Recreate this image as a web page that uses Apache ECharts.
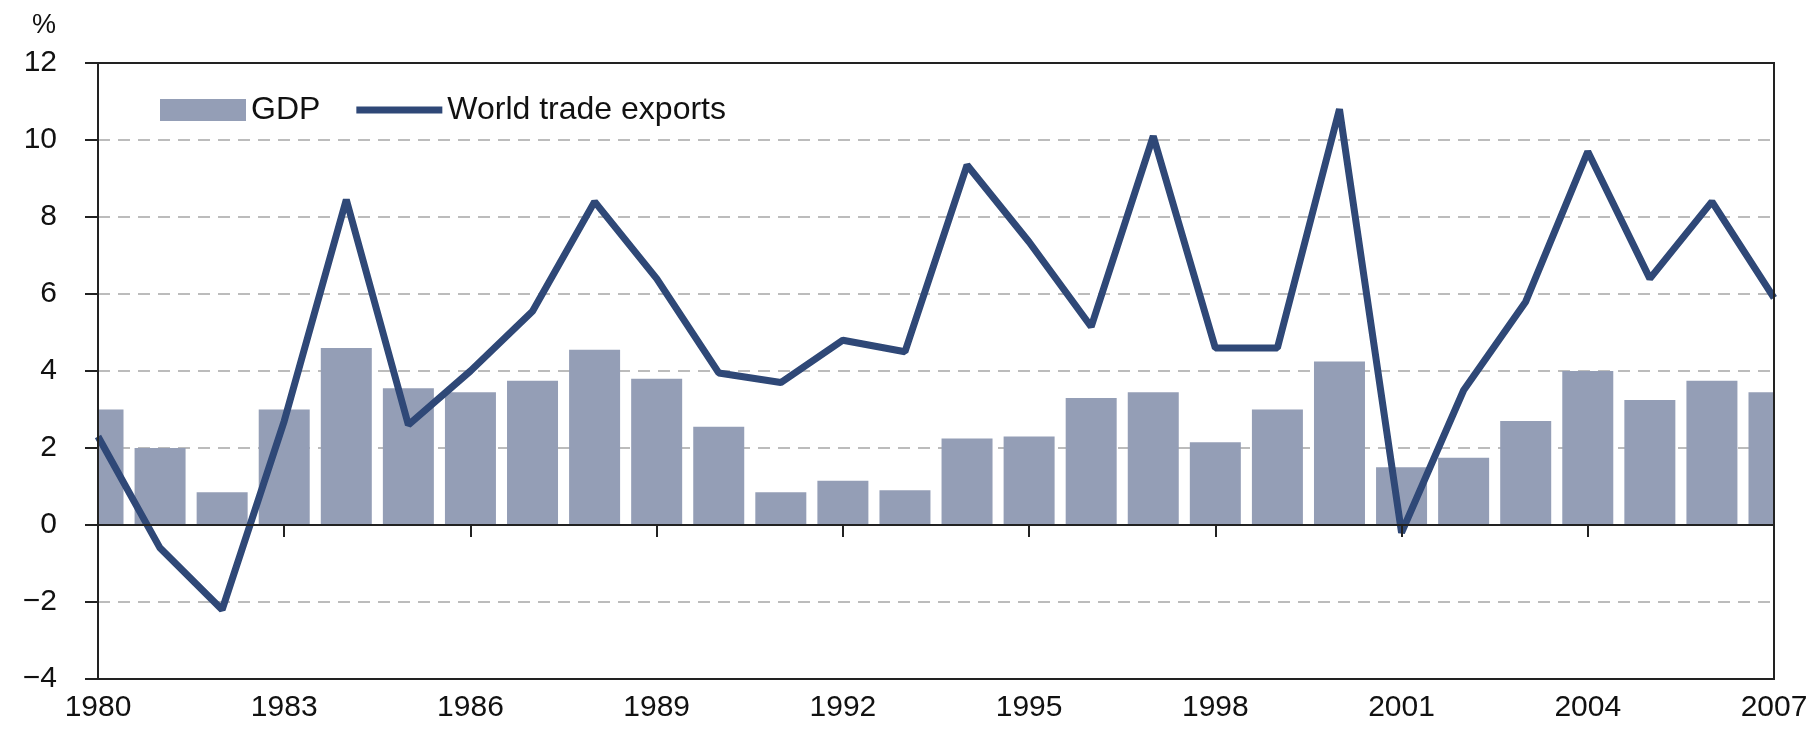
<!DOCTYPE html>
<html>
<head>
<meta charset="utf-8">
<title>GDP and world trade exports</title>
<script src="https://cdn.jsdelivr.net/npm/echarts@6/dist/echarts.min.js"></script>
<style>
    html, body { margin: 0; padding: 0; background: #fff; }
    #chart1 { width: 1820px; height: 731px; }
</style>
</head>
<body>
<div id="chart1"></div>
<script>
// years on the x axis
var years = ['1980', '1981', '1982', '1983', '1984', '1985', '1986', '1987', '1988', '1989',
    '1990', '1991', '1992', '1993', '1994', '1995', '1996', '1997', '1998', '1999',
    '2000', '2001', '2002', '2003', '2004', '2005', '2006', '2007'];

// GDP growth, % (bars)
var gdp = [3.0, 2.0, 0.85, 3.0, 4.6, 3.55, 3.45, 3.75, 4.55, 3.8,
    2.55, 0.85, 1.15, 0.9, 2.25, 2.3, 3.3, 3.45, 2.15, 3.0,
    4.25, 1.5, 1.75, 2.7, 4.0, 3.25, 3.75, 3.45];

// world trade exports growth, % (line)
var exportsGrowth = [2.3, -0.6, -2.2, 2.7, 8.45, 2.6, 4.0, 5.55, 8.4, 6.4,
    3.95, 3.7, 4.8, 4.5, 9.35, 7.35, 5.15, 10.1, 4.6, 4.6,
    10.8, -0.2, 3.5, 5.8, 9.7, 6.4, 8.4, 5.9];

// y axis ticks
var yMin = -4;
var yMax = 12;
var yStep = 2;

var font = "'Liberation Sans', Arial, sans-serif";
var barColor = '#949eb6';
var lineColor = '#2f4877';
var barWidth = 51;

var myChart = echarts.init(document.getElementById('chart1'));

// bars are centred on the year ticks, so the first and last one are cut by the frame
function renderBar(params, api) {
    var x = api.value(0);
    var top = api.coord([x, api.value(1)]);
    var base = api.coord([x, 0]);
    var cs = params.coordSys;
    var shape = echarts.graphic.clipRectByRect({
        x: top[0] - barWidth / 2,
        y: Math.min(top[1], base[1]),
        width: barWidth,
        height: Math.abs(base[1] - top[1])
    }, { x: cs.x, y: cs.y, width: cs.width, height: cs.height });
    return shape && {
        type: 'rect',
        shape: shape,
        style: { fill: api.visual('color') }
    };
}

var option = {
    animation: false,
    title: {
        text: '%',
        left: 27,
        top: 7,
        textStyle: { fontFamily: font, fontSize: 27, fontWeight: 'normal', color: '#111' }
    },
    legend: {
        left: 155,
        top: 89,
        itemWidth: 86,
        itemHeight: 22,
        itemGap: 36,
        textStyle: { fontFamily: font, fontSize: 32, color: '#111' },
        data: [
            { name: 'GDP', icon: 'rect' },
            { name: 'World trade exports', icon: 'path://M0,0H86V7H0Z' }
        ]
    },
    grid: {
        left: 98,
        right: 46,
        top: 63,
        bottom: 52,
        show: true,
        z: 10,
        backgroundColor: 'transparent',
        borderColor: '#222',
        borderWidth: 2
    },
    xAxis: [{
        // bottom axis: labels only
        type: 'category',
        data: years,
        boundaryGap: false,
        position: 'bottom',
        axisLine: { onZero: false, show: true, lineStyle: { color: '#222', width: 2 } },
        axisTick: { show: false },
        axisLabel: {
            interval: 2,
            margin: 14,
            fontFamily: font,
            fontSize: 30,
            color: '#111'
        },
        splitLine: { show: false }
    }, {
        // zero line with ticks every 3 years
        type: 'category',
        data: years,
        boundaryGap: false,
        position: 'bottom',
        z: 10,
        axisLine: { onZero: true, show: true, lineStyle: { color: '#222', width: 2 } },
        axisTick: { show: true, interval: 2, length: 12, lineStyle: { color: '#222', width: 2 } },
        axisLabel: { show: false },
        splitLine: { show: false }
    }],
    yAxis: {
        type: 'value',
        min: yMin,
        max: yMax,
        interval: yStep,
        axisLine: { show: true, lineStyle: { color: '#222', width: 2 } },
        axisTick: { show: true, length: 13, lineStyle: { color: '#222', width: 2 } },
        axisLabel: {
            margin: 41,
            fontFamily: font,
            fontSize: 30,
            color: '#111',
            formatter: function (v) { return v < 0 ? '\u2212' + Math.abs(v) : String(v); }
        },
        splitLine: {
            show: true,
            lineStyle: { color: '#bcbcbc', width: 2, type: [12, 8] }
        }
    },
    series: [{
        name: 'GDP',
        type: 'custom',
        xAxisIndex: 0,
        renderItem: renderBar,
        encode: { x: 0, y: 1 },
        data: gdp.map(function (v, i) { return [i, v]; }),
        itemStyle: { color: barColor }
    }, {
        name: 'World trade exports',
        type: 'line',
        xAxisIndex: 0,
        data: exportsGrowth,
        symbol: 'none',
        lineStyle: { color: lineColor, width: 7 },
        itemStyle: { color: lineColor }
    }]
};

myChart.setOption(option);
</script>
</body>
</html>
